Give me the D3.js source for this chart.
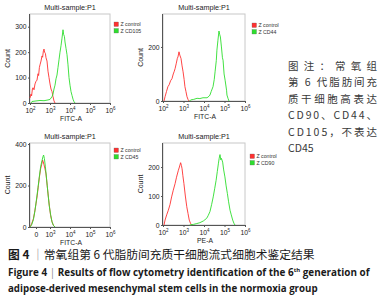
<!DOCTYPE html>
<html>
<head>
<meta charset="utf-8">
<script src="https://cdn.jsdelivr.net/npm/d3@7"></script>
<style>
  body { margin: 0; background: #fff; }
  svg { display: block; }
</style>
</head>
<body>
<div id="chart"></div>
<script>
// histogram values: [log10 decade, count]
const p1Control = [[2.00,20],[2.05,35],[2.08,28],[2.12,55],[2.15,60],[2.2,52],[2.25,75],[2.3,85],[2.35,90],[2.4,115],[2.43,108],[2.47,140],[2.5,150],[2.55,165],[2.6,185],[2.63,180],[2.67,205],[2.7,212],[2.73,200],[2.77,195],[2.8,178],[2.85,165],[2.9,125],[2.95,100],[3.0,75],[3.05,55],[3.1,45],[3.15,25],[3.2,8],[3.25,0]];
const p1Marker = [[2.05,0],[2.1,6],[2.3,8],[2.5,10],[2.7,9],[2.9,12],[3.0,14],[3.1,25],[3.15,35],[3.2,55],[3.25,70],[3.3,95],[3.35,110],[3.4,140],[3.45,170],[3.5,200],[3.55,225],[3.6,255],[3.65,288],[3.68,270],[3.72,262],[3.75,240],[3.8,215],[3.85,190],[3.9,150],[3.95,100],[4.0,70],[4.05,45],[4.1,30],[4.15,15],[4.2,5],[4.25,0]];

const p2Control = [[2.05,0],[2.1,16],[2.17,35],[2.24,53],[2.3,60],[2.37,75],[2.44,83],[2.5,100],[2.55,110],[2.59,120],[2.65,140],[2.7,158],[2.73,163],[2.78,182],[2.82,170],[2.88,157],[2.93,130],[2.98,108],[3.03,80],[3.07,53],[3.12,35],[3.17,16],[3.22,6],[3.27,0]];
const p2Marker = [[3.3,0],[3.35,4],[3.5,6],[3.66,10],[3.8,9],[3.95,12],[4.15,12],[4.25,18],[4.29,22],[4.35,35],[4.44,53],[4.5,80],[4.54,108],[4.6,150],[4.63,188],[4.68,225],[4.73,259],[4.77,245],[4.8,237],[4.85,200],[4.9,160],[4.93,151],[4.98,100],[5.03,77],[5.1,40],[5.12,22],[5.17,10],[5.22,0]];

const p3Control = [[2.0,0],[2.08,15],[2.17,40],[2.23,70],[2.3,112],[2.36,150],[2.42,200],[2.47,240],[2.53,280],[2.58,300],[2.63,323],[2.66,315],[2.7,300],[2.75,280],[2.8,256],[2.86,200],[2.92,144],[2.97,100],[3.03,56],[3.1,25],[3.17,8],[3.25,0]];
const p3Marker = [[2.0,0],[2.08,10],[2.17,35],[2.25,80],[2.32,130],[2.4,190],[2.47,245],[2.53,290],[2.6,320],[2.65,340],[2.68,347],[2.72,330],[2.77,290],[2.83,230],[2.9,160],[2.96,105],[3.03,60],[3.1,25],[3.17,8],[3.25,0]];

const p4Control = [[2.05,0],[2.1,17],[2.18,35],[2.26,51],[2.34,70],[2.42,97],[2.5,120],[2.59,143],[2.66,165],[2.75,189],[2.8,200],[2.86,215],[2.9,205],[2.93,194],[2.97,170],[3.02,143],[3.09,100],[3.16,63],[3.22,40],[3.28,17],[3.34,6],[3.4,0]];
const p4Marker = [[3.3,0],[3.48,2],[3.65,5],[3.8,8],[3.97,14],[4.13,23],[4.2,32],[4.29,46],[4.37,70],[4.45,97],[4.52,125],[4.59,154],[4.65,185],[4.7,211],[4.74,230],[4.78,243],[4.82,225],[4.85,230],[4.91,217],[4.96,190],[5.02,166],[5.08,135],[5.14,109],[5.2,80],[5.27,51],[5.33,35],[5.4,17],[5.46,6],[5.51,0]];

// tick labels
const xTicksLog = [2, 3, 4, 5, 6];
const xTicksBiexp = [2.3, 3, 4, 5, 6];
const xTickExpLabels = ["2", "3", "4", "5", "6"];
const xTickBiexpLabels = ["0", "3", "4", "5", "6"];
const p1YTicks = [0, 100, 200, 300];
const p2YTicks = [0, 200];
const p3YTicks = [0, 200, 400];
const p4YTicks = [0, 100, 200];
const markerNames = ["CD105", "CD44", "CD45", "CD90"];
const xLabels = ["FITC-A", "FITC-A", "FITC-A", "PE-A"];

const noteLines = ["图注：常氧组", "第 6 代脂肪间充", "质干细胞高表达", "CD90、CD44、", "CD105，不表达", "CD45"];

const W = 386, H = 300;
const red = "#ff3030", green = "#2ede2e";
const fontSans = "'Liberation Sans', Arial, sans-serif";

let svg = d3.select("#chart").append("svg")
    .attr("width", W)
    .attr("height", H)
    .style("background", "#fff");

// layout of each small panel (pixels)
let panels = [
    {left: 30, right: 110, top: 14, bottom: 103, yMax: 350, yTicks: p1YTicks, control: p1Control, marker: p1Marker,
     ticks: xTicksLog, tickLab: xTickExpLabels, legX: 114, legY: 22},
    {left: 163, right: 245, top: 14, bottom: 101, yMax: 322, yTicks: p2YTicks, control: p2Control, marker: p2Marker,
     ticks: xTicksLog, tickLab: xTickExpLabels, legX: 252, legY: 23},
    {left: 30, right: 110, top: 143, bottom: 227, yMax: 405, yTicks: p3YTicks, control: p3Control, marker: p3Marker,
     ticks: xTicksBiexp, tickLab: xTickBiexpLabels, legX: 114, legY: 148},
    {left: 163, right: 245, top: 143, bottom: 225, yMax: 283, yTicks: p4YTicks, control: p4Control, marker: p4Marker,
     ticks: xTicksLog, tickLab: xTickExpLabels, legX: 250, legY: 154}
];

panels.forEach((p, i) => {
    let g = svg.append("g").attr("class", "panel" + i);

    let x = d3.scaleLinear().domain([2, 6]).range([p.left, p.right]);
    let y = d3.scaleLinear().domain([0, p.yMax]).range([p.bottom, p.top]);

    // frame (light top/right)
    g.append("rect")
        .attr("x", p.left).attr("y", p.top)
        .attr("width", p.right - p.left).attr("height", p.bottom - p.top)
        .attr("fill", "none").attr("stroke", "#c8c8c8").attr("stroke-width", 1);

    // y axis
    let yAxis = d3.axisLeft(y).tickValues(p.yTicks).tickSize(2).tickPadding(1.5);
    let ya = g.append("g").attr("transform", `translate(${p.left},0)`).call(yAxis);
    ya.select(".domain").attr("stroke", "#555").attr("d", `M-0.5,${p.top}V${p.bottom}`);
    ya.selectAll("line").attr("stroke", "#555");
    ya.selectAll("text").attr("font-size", 6.8).attr("font-family", fontSans).attr("fill", "#222");

    // x axis
    let xAxis = d3.axisBottom(x).tickValues(p.ticks).tickSize(2).tickPadding(2).tickFormat("");
    let xa = g.append("g").attr("transform", `translate(0,${p.bottom})`).call(xAxis);
    xa.select(".domain").attr("stroke", "#555").attr("d", `M${p.left},0.5H${p.right}`);
    xa.selectAll("line").attr("stroke", "#555");
    xa.selectAll(".tick").each(function(d, k) {
        let t = d3.select(this).append("text")
            .attr("y", 10).attr("text-anchor", "middle")
            .attr("font-size", 6.8).attr("font-family", fontSans).attr("fill", "#222");
        if (p.tickLab[k] === "0") {
            t.text("0");
        } else {
            t.append("tspan").text("10");
            t.append("tspan").attr("font-size", 4.5).attr("dy", -2.8).text(p.tickLab[k]);
        }
    });

    // titles
    g.append("text")
        .attr("x", (p.left + p.right) / 2).attr("y", p.top - 4.5)
        .attr("text-anchor", "middle").attr("font-size", 7.2)
        .attr("font-family", fontSans).attr("fill", "#222")
        .text("Multi-sample:P1");

    g.append("text")
        .attr("transform", `translate(${p.left - 20},${(p.top + p.bottom) / 2}) rotate(-90)`)
        .attr("text-anchor", "middle").attr("font-size", 7)
        .attr("font-family", fontSans).attr("fill", "#222")
        .text("Count");

    g.append("text")
        .attr("x", (p.left + p.right) / 2 + 1).attr("y", p.bottom + 17.5)
        .attr("text-anchor", "middle").attr("font-size", 6.8)
        .attr("font-family", fontSans).attr("fill", "#222")
        .text(xLabels[i]);

    // histograms
    let line = d3.line().x(d => x(d[0])).y(d => y(d[1]));
    g.append("path").datum(p.control)
        .attr("d", line).attr("fill", "none").attr("stroke", red).attr("stroke-width", 0.9);
    g.append("path").datum(p.marker)
        .attr("d", line).attr("fill", "none").attr("stroke", green).attr("stroke-width", 0.9);

    // legend
    let legend = [["Z control", red], ["Z " + markerNames[i], green]];
    legend.forEach((l, k) => {
        g.append("rect")
            .attr("x", p.legX).attr("y", p.legY + k * 6.5)
            .attr("width", 4.5).attr("height", 4.5)
            .attr("fill", l[1]).attr("stroke", "#666").attr("stroke-width", 0.3);
        g.append("text")
            .attr("x", p.legX + 6.5).attr("y", p.legY + k * 6.5 + 4.2)
            .attr("font-size", 5.2).attr("font-family", fontSans).attr("fill", "#333")
            .text(l[0]);
    });
});

// side note
noteLines.forEach((s, k) => {
    let t = svg.append("text")
        .attr("x", 288).attr("y", 70 + k * 16.4)
        .attr("font-size", 10.5)
        .attr("font-family", "'Noto Sans CJK SC', sans-serif")
        .attr("fill", "#3a3a3a")
        .text(s);
    if (k < noteLines.length - 1) t.attr("textLength", 89).attr("lengthAdjust", "spacing");
});

// shrink a caption line's font until it fits the wanted width
function fitWidth(t, base, target) {
    let w = t.node().getComputedTextLength();
    let s = base * target / w;
    t.attr("font-size", s);
    t.selectAll("tspan.sup").attr("font-size", s * 0.6);
}

// caption
let cap1 = svg.append("text")
    .attr("x", 8).attr("y", 259)
    .attr("font-size", 11)
    .attr("font-family", "'Noto Sans CJK SC', sans-serif")
    .attr("fill", "#1a1a1a")
    .call(t => {
        t.append("tspan").attr("font-weight", "bold").text("图 4 ");
        t.append("tspan").attr("fill", "#888").text("｜");
        t.append("tspan").text("常氧组第 6 代脂肪间充质干细胞流式细胞术鉴定结果");
    });
fitWidth(cap1, 11, 307);

let cap2 = svg.append("text")
    .attr("x", 8).attr("y", 276)
    .attr("font-size", 10)
    .attr("font-weight", "bold")
    .attr("font-family", "'Open Sans', sans-serif")
    .attr("fill", "#1a1a1a")
    .call(t => {
        t.append("tspan").text("Figure 4 ");
        t.append("tspan").attr("font-weight", "normal").attr("fill", "#888").text("|");
        t.append("tspan").text(" Results of flow cytometry identification of the 6");
        t.append("tspan").attr("class", "sup").attr("font-size", 6).attr("baseline-shift", "super").text("th");
        t.append("tspan").text(" generation of");
    });
fitWidth(cap2, 10, 362);

let cap3 = svg.append("text")
    .attr("x", 8).attr("y", 292)
    .attr("font-size", 10)
    .attr("font-weight", "bold")
    .attr("font-family", "'Open Sans', sans-serif")
    .attr("fill", "#1a1a1a")
    .text("adipose-derived mesenchymal stem cells in the normoxia group");
fitWidth(cap3, 10, 310);
</script>
</body>
</html>
